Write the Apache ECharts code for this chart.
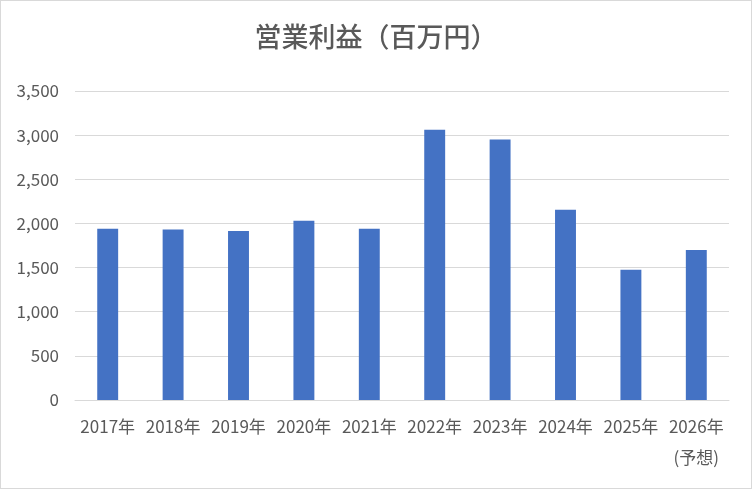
<!DOCTYPE html>
<html><head><meta charset="utf-8">
<script src="https://cdn.jsdelivr.net/npm/echarts@6/dist/echarts.min.js"></script>
<style>
html,body{margin:0;padding:0;background:#fff;}
#c{width:750px;height:487px;border:1px solid #d9d9d9;}
</style></head>
<body><div id="c"></div>
<script>
const title = '営業利益（百万円）';
const categories = ['2017年','2018年','2019年','2020年','2021年','2022年','2023年','2024年','2025年','2026年\n(予想)'];
const profit = [1940, 1930, 1915, 2030, 1940, 3060, 2950, 2155, 1475, 1700];
const yTicks = {min: 0, max: 3500, interval: 500};

const chart = echarts.init(document.getElementById('c'));
const font = '"Noto Sans CJK JP", sans-serif';
chart.setOption({
  animation: false,
  title: {text: title, left: 'center', top: 17, textStyle: {fontFamily: font, fontSize: 27, fontWeight: 500, color: '#595959'}},
  grid: {left: 74, right: 22, top: 90, bottom: 88},
  xAxis: {
    type: 'category', data: categories,
    axisLine: {lineStyle: {color: '#d9d9d9', width: 1}},
    axisTick: {show: false},
    axisLabel: {fontFamily: font, fontSize: 17, color: '#595959', margin: 11, lineHeight: 31, interval: 0}
  },
  yAxis: {
    type: 'value', min: yTicks.min, max: yTicks.max, interval: yTicks.interval,
    axisLine: {show: false}, axisTick: {show: false},
    splitLine: {lineStyle: {color: '#d9d9d9', width: 1}},
    axisLabel: {fontFamily: font, fontSize: 17, color: '#595959', margin: 16,
      formatter: v => v.toLocaleString('en-US')}
  },
  series: [{type: 'bar', data: profit, barWidth: '32%', itemStyle: {color: '#4472c4'}}]
});
</script></body></html>
